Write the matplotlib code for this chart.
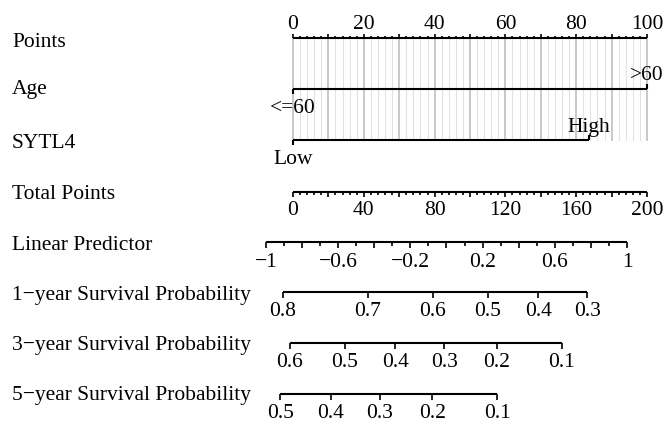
import numpy as np
import matplotlib.pyplot as plt

plt.rcParams['font.family'] = ['Liberation Serif', 'DejaVu Serif']

# nomogram rows
row_names = ['Points', 'Age', 'SYTL4', 'Total Points', 'Linear Predictor',
             '1\u2212year Survival Probability', '3\u2212year Survival Probability',
             '5\u2212year Survival Probability']

age_levels = ['<=60', '>60']
age_points = [0, 100]
sytl4_levels = ['Low', 'High']
sytl4_points = [0, 83.6]

points_ticks = np.arange(0, 101, 2)
total_ticks = np.arange(0, 201, 4)
lp_ticks = np.round(np.arange(-1, 1.01, 0.1), 1)

# linear predictor at 0 total points, total points per unit of LP
lp_at_zero = -0.85
total_per_lp = 102

surv_1y = [0.8, 0.7, 0.6, 0.5, 0.4, 0.3]
surv_3y = [0.6, 0.5, 0.4, 0.3, 0.2, 0.1]
surv_5y = [0.5, 0.4, 0.3, 0.2, 0.1]
base_surv = [0.576, 0.296, 0.1755]   # baseline survival at 1, 3, 5 years

# layout (y in pixels from top)
row_y = [38, 89, 140, 192, 242, 292, 343, 394]
name_y = [47, 94, 148, 199, 250, 300, 350, 400]
px_per_pt = 3.54
x0_px = 293
FS = 15.5
TFS = 15.5
LW = 1.5

fig = plt.figure(figsize=(6.63, 4.22), dpi=100)
ax = fig.add_axes([0, 0, 1, 1])
ax.set_xlim(-x0_px / px_per_pt, (663 - x0_px) / px_per_pt)
ax.set_ylim(422, 0)
ax.axis('off')


def hline(a, b, y):
    ax.plot([a, b], [y, y], color='black', lw=LW, solid_capstyle='butt')


def tick(x, y, length, lw=LW):
    ax.plot([x, x], [y, y + length], color='black', lw=lw, solid_capstyle='butt')


def label(x, y, s):
    ax.text(x, y, s, fontsize=TFS, ha='center', va='baseline')


def total_to_x(tp):
    return tp / 2.0


def lp_to_x(lp):
    return total_to_x((lp - lp_at_zero) * total_per_lp)


def surv_to_x(s, s0):
    lp = np.log(np.log(s) / np.log(s0))
    return lp_to_x(lp)


# row labels
for name, y in zip(row_names, name_y):
    ax.text(-x0_px / px_per_pt + 12 / px_per_pt, y, name, fontsize=FS,
            ha='left', va='baseline')

# grid lines behind the predictor rows
for p in points_ticks:
    major = p % 10 == 0
    ax.plot([p, p], [row_y[0], row_y[2]], color='#c4c4c4' if major else '#e2e2e2',
            lw=1.3 if major else 0.8, zorder=0)

# Points axis
y = row_y[0]
hline(0, 100, y)
for p in points_ticks:
    tick(p, y, -4 if p % 10 == 0 else -2, lw=1.2)
for p in range(0, 101, 20):
    label(p, y - 9, str(p))

# Age
y = row_y[1]
hline(age_points[0], age_points[1], y)
tick(age_points[0], y, 5)
tick(age_points[1], y, -5)
label(age_points[0], y + 24, age_levels[0])
label(age_points[1], y - 9, age_levels[1])

# SYTL4
y = row_y[2]
hline(sytl4_points[0], sytl4_points[1], y)
tick(sytl4_points[0], y, 5)
tick(sytl4_points[1], y, -5)
label(sytl4_points[0], y + 24, sytl4_levels[0])
label(sytl4_points[1], y - 8, sytl4_levels[1])

# Total Points
y = row_y[3]
hline(total_to_x(total_ticks[0]), total_to_x(total_ticks[-1]), y)
for t in total_ticks:
    tick(total_to_x(t), y, 4.5 if t % 20 == 0 else 2.5, lw=1.2)
for t in range(0, 201, 40):
    label(total_to_x(t), y + 23, str(t))

# Linear Predictor
y = row_y[4]
hline(lp_to_x(lp_ticks[0]), lp_to_x(lp_ticks[-1]), y)
for i, lp in enumerate(lp_ticks):
    tick(lp_to_x(lp), y, 6 if i % 2 == 0 else 3.5, lw=1.2)
for lp in lp_ticks[::4]:
    label(lp_to_x(lp), y + 25, ('%g' % lp).replace('-', '\u2212'))

# survival probability axes
for vals, s0, y in zip([surv_1y, surv_3y, surv_5y], base_surv, row_y[5:]):
    xs = [surv_to_x(s, s0) for s in vals]
    hline(xs[0], xs[-1], y)
    for s, x in zip(vals, xs):
        tick(x, y, 6, lw=1.2)
        label(x, y + 24, '%g' % s)

fig.savefig('out.png', dpi=100)
